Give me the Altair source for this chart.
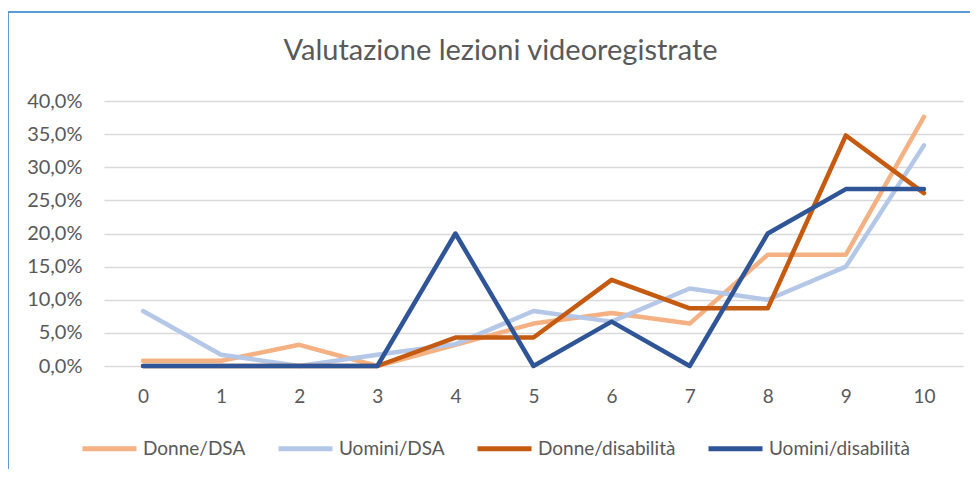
import altair as alt
import pandas as pd

categories = [0, 1, 2, 3, 4, 5, 6, 7, 8, 9, 10]
series_names = ["Donne/DSA", "Uomini/DSA", "Donne/disabilità", "Uomini/disabilità"]
donne_dsa = [0.8, 0.8, 3.2, 0.0, 3.2, 6.4, 8.0, 6.4, 16.8, 16.8, 37.6]
uomini_dsa = [8.3, 1.7, 0.0, 1.7, 3.3, 8.3, 6.7, 11.7, 10.0, 15.0, 33.3]
donne_dis = [0.0, 0.0, 0.0, 0.0, 4.3, 4.3, 13.0, 8.7, 8.7, 34.8, 26.1]
uomini_dis = [0.0, 0.0, 0.0, 0.0, 20.0, 0.0, 6.7, 0.0, 20.0, 26.7, 26.7]
colors = ["#F4B183", "#B4C7E7", "#C55A11", "#2F5597"]
y_ticks = [0, 5, 10, 15, 20, 25, 30, 35, 40]

rows = []
for name, vals in zip(series_names, [donne_dsa, uomini_dsa, donne_dis, uomini_dis]):
    for c, v in zip(categories, vals):
        rows.append({"voto": c, "serie": name, "valore": v})
df = pd.DataFrame(rows)

FONT = "Lato"
GREY = "#595959"

lines = alt.Chart(df).mark_line(strokeWidth=4.5, strokeCap="round", strokeJoin="round").encode(
    x=alt.X("voto:O", sort=categories, title=None,
            scale=alt.Scale(type="point", padding=0.5),
            axis=alt.Axis(labelAngle=0, ticks=False, domain=False, grid=False,
                          labelFont=FONT, labelFontSize=19, labelColor=GREY, labelPadding=21)),
    y=alt.Y("valore:Q", title=None,
            scale=alt.Scale(domain=[0, 40], nice=False),
            axis=alt.Axis(values=y_ticks, ticks=False, domain=False,
                          labelExpr="replace(format(datum.value, '.1f'), '.', ',') + '%'",
                          labelFont=FONT, labelFontSize=20, labelColor=GREY, labelPadding=22,
                          gridColor="#D9D9D9", gridWidth=1.5)),
    color=alt.Color("serie:N", sort=series_names,
                    scale=alt.Scale(domain=series_names, range=colors),
                    legend=alt.Legend(title=None, orient="none", direction="horizontal",
                                      legendX=-24, legendY=318,
                                      symbolType="stroke", symbolSize=2916, symbolStrokeWidth=5,
                                      labelFont=FONT, labelFontSize=19, labelColor=GREY,
                                      labelOffset=4, columnPadding=22, padding=0)),
)

border_top = alt.Chart(df).mark_rule(color="#5B9BD5", strokeWidth=1.5).encode(
    x=alt.value(-96), x2=alt.value(880), y=alt.value(-89))
border_left = alt.Chart(df).mark_rule(color="#5B9BD5", strokeWidth=1.5).encode(
    x=alt.value(-96), y=alt.value(-89), y2=alt.value(400))

chart = alt.layer(lines, border_top, border_left).properties(
    width=859, height=265,
    autosize=alt.AutoSizeParams(type="none"),
    padding={"left": 96, "top": 93, "right": 7, "bottom": 103},
    title=alt.Title("Valutazione lezioni videoregistrate", font=FONT, fontSize=29,
                    fontWeight="normal", color=GREY, anchor="middle", dx=-33, offset=0, dy=55),
).configure_view(stroke=None)

chart.save("out.html", embed_options={"renderer": "svg", "actions": False})
